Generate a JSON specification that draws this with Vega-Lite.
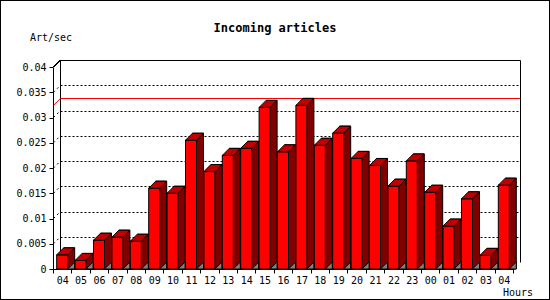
{
  "$schema": "https://vega.github.io/schema/vega-lite/v6.json",
  "width": 550,
  "height": 300,
  "autosize": {"type": "none"},
  "padding": 0,
  "background": "white",
  "title": {"text": "Incoming articles", "font": "DejaVu Sans Mono", "fontSize": 12, "fontWeight": "bold", "color": "black", "anchor": "middle", "offset": -44, "baseline": "alphabetic"},
  "config": {
    "view": {"stroke": "black", "strokeWidth": 2, "fill": "white"},
    "axis": {"labelFont": "DejaVu Sans Mono", "labelFontSize": 10, "labelColor": "black", "titleFont": "DejaVu Sans Mono", "titleFontSize": 10, "titleFontWeight": "normal", "titleColor": "black", "domainColor": "black", "tickColor": "black", "domainWidth": 1, "tickWidth": 1}
  },
  "datasets": {
    "gridTicks": [{"v": 0.005}, {"v": 0.01}, {"v": 0.015}, {"v": 0.02}, {"v": 0.025}, {"v": 0.03}, {"v": 0.035}]
  },
  "data": {"values": [
    {"time": "2000-01-01T04:00:00", "rate": 0.0028},
    {"time": "2000-01-01T05:00:00", "rate": 0.0017},
    {"time": "2000-01-01T06:00:00", "rate": 0.0057},
    {"time": "2000-01-01T07:00:00", "rate": 0.0063},
    {"time": "2000-01-01T08:00:00", "rate": 0.0055},
    {"time": "2000-01-01T09:00:00", "rate": 0.0160},
    {"time": "2000-01-01T10:00:00", "rate": 0.0150},
    {"time": "2000-01-01T11:00:00", "rate": 0.0255},
    {"time": "2000-01-01T12:00:00", "rate": 0.0193},
    {"time": "2000-01-01T13:00:00", "rate": 0.0225},
    {"time": "2000-01-01T14:00:00", "rate": 0.0239},
    {"time": "2000-01-01T15:00:00", "rate": 0.0320},
    {"time": "2000-01-01T16:00:00", "rate": 0.0232},
    {"time": "2000-01-01T17:00:00", "rate": 0.0324},
    {"time": "2000-01-01T18:00:00", "rate": 0.0245},
    {"time": "2000-01-01T19:00:00", "rate": 0.0269},
    {"time": "2000-01-01T20:00:00", "rate": 0.0219},
    {"time": "2000-01-01T21:00:00", "rate": 0.0205},
    {"time": "2000-01-01T22:00:00", "rate": 0.0164},
    {"time": "2000-01-01T23:00:00", "rate": 0.0214},
    {"time": "2000-01-02T00:00:00", "rate": 0.0152},
    {"time": "2000-01-02T01:00:00", "rate": 0.0085},
    {"time": "2000-01-02T02:00:00", "rate": 0.0139},
    {"time": "2000-01-02T03:00:00", "rate": 0.0027},
    {"time": "2000-01-02T04:00:00", "rate": 0.0166}
  ]},
  "resolve": {"scale": {"x": "independent", "y": "independent"}},
  "layer": [
    {
      "mark": {"type": "bar", "width": 11, "fill": "#800000", "stroke": "black", "strokeWidth": 1, "y2Offset": 7},
      "encoding": {
        "x": {"field": "time", "type": "ordinal", "timeUnit": "yearmonthdatehours",
          "scale": {"type": "band", "range": [60, 520], "paddingInner": 0, "paddingOuter": 0},
          "axis": {"orient": "top", "offset": -60, "domain": true, "ticks": false, "labels": false, "grid": false, "title": null}},
        "y": {"field": "rate", "type": "quantitative",
          "scale": {"domain": [0, 0.04], "range": [262, 60], "nice": false},
          "axis": {"orient": "left", "offset": -60, "domain": true, "ticks": false, "labels": false, "grid": true, "gridColor": "black", "gridDash": [2, 2], "gridOpacity": 1, "gridWidth": 1, "values": [0.005, 0.01, 0.015, 0.02, 0.025, 0.03, 0.035], "title": null}},
        "y2": {"datum": 0}
      }
    },
    {
      "mark": {"type": "bar", "width": 11, "fill": "#ff0000", "stroke": "black", "strokeWidth": 1},
      "encoding": {
        "x": {"field": "time", "type": "ordinal", "timeUnit": "yearmonthdatehours",
          "scale": {"type": "band", "range": [53, 513], "paddingInner": 0, "paddingOuter": 0},
          "axis": {"orient": "bottom", "offset": -31, "format": "%H", "formatType": "time", "labelAngle": 0, "labelOverlap": false, "tickBand": "extent", "tickSize": 4, "labelPadding": 2, "domain": true, "grid": false,
            "title": "Hours", "titleAlign": "right", "titleX": 532.5, "titleY": 26.5, "titleBaseline": "alphabetic", "titleAngle": 0}},
        "y": {"field": "rate", "type": "quantitative",
          "scale": {"domain": [0, 0.04], "range": [269, 67], "nice": false},
          "axis": {"orient": "left", "offset": -53, "values": [0, 0.005, 0.01, 0.015, 0.02, 0.025, 0.03, 0.035, 0.04], "format": ".3~f", "tickSize": 4, "labelPadding": 3, "grid": false, "labelOverlap": false,
            "title": "Art/sec", "titleAngle": 0, "titleX": -23.5, "titleY": 40.5, "titleAlign": "left", "titleBaseline": "alphabetic"}}
      }
    },
    {
      "mark": {"type": "point", "shape": "M-1,0.56L-0.12,0.56L0.44,0L-0.44,0Z", "size": 625, "filled": true, "fill": "#c00000", "stroke": "black", "strokeWidth": 1, "opacity": 1},
      "encoding": {
        "x": {"field": "time", "type": "ordinal", "timeUnit": "yearmonthdatehours",
          "scale": {"type": "band", "range": [60, 520], "paddingInner": 0, "paddingOuter": 0}, "axis": null},
        "y": {"field": "rate", "type": "quantitative",
          "scale": {"domain": [0, 0.04], "range": [262, 60], "nice": false},
          "axis": {"orient": "right", "offset": -30, "domain": true, "ticks": false, "labels": false, "grid": false, "title": null}}
      }
    },
    {
      "mark": {"type": "point", "shape": "M-0.2143,1L0.7857,0L0.7857,1Z", "size": 196, "filled": true, "fill": "#808080", "stroke": "black", "strokeWidth": 1, "opacity": 1},
      "encoding": {
        "x": {"field": "time", "type": "ordinal", "timeUnit": "yearmonthdatehours",
          "scale": {"type": "band", "range": [60, 520], "paddingInner": 0, "paddingOuter": 0}, "axis": null},
        "y": {"datum": 0, "type": "quantitative",
          "scale": {"domain": [0, 0.04], "range": [262, 60], "nice": false},
          "axis": {"orient": "left", "offset": -60, "domain": false, "ticks": false, "labels": false, "grid": true, "gridColor": "#ff0000", "gridOpacity": 1, "gridWidth": 1, "values": [0.0324], "title": null}}
      }
    },
    {
      "mark": {"type": "point", "shape": "M-1,0.0316L-0.9684,0", "size": 196249, "filled": false, "fill": null, "stroke": "#ff0000", "strokeWidth": 1, "opacity": 1},
      "encoding": {
        "y": {"aggregate": "max", "field": "rate", "type": "quantitative",
          "scale": {"domain": [0, 0.04], "range": [262, 60], "nice": false}, "axis": null}
      }
    },
    {
      "mark": {"type": "point", "shape": "M-1,0.0316L-0.9684,0", "size": 196249, "filled": false, "fill": null, "stroke": "black", "strokeWidth": 1, "opacity": 1},
      "encoding": {
        "y": {"datum": 0.04, "type": "quantitative",
          "scale": {"domain": [0, 0.04], "range": [262, 60], "nice": false}, "axis": null}
      }
    },
    {
      "data": {"name": "gridTicks"},
      "mark": {"type": "point", "shape": "M-1,0.0316L-0.9684,0", "size": 196249, "filled": false, "fill": null, "stroke": "black", "strokeWidth": 1, "strokeDash": [2, 3], "opacity": 1},
      "encoding": {
        "y": {"field": "v", "type": "quantitative",
          "scale": {"domain": [0, 0.04], "range": [262, 60], "nice": false}, "axis": null}
      }
    }
  ]
}
